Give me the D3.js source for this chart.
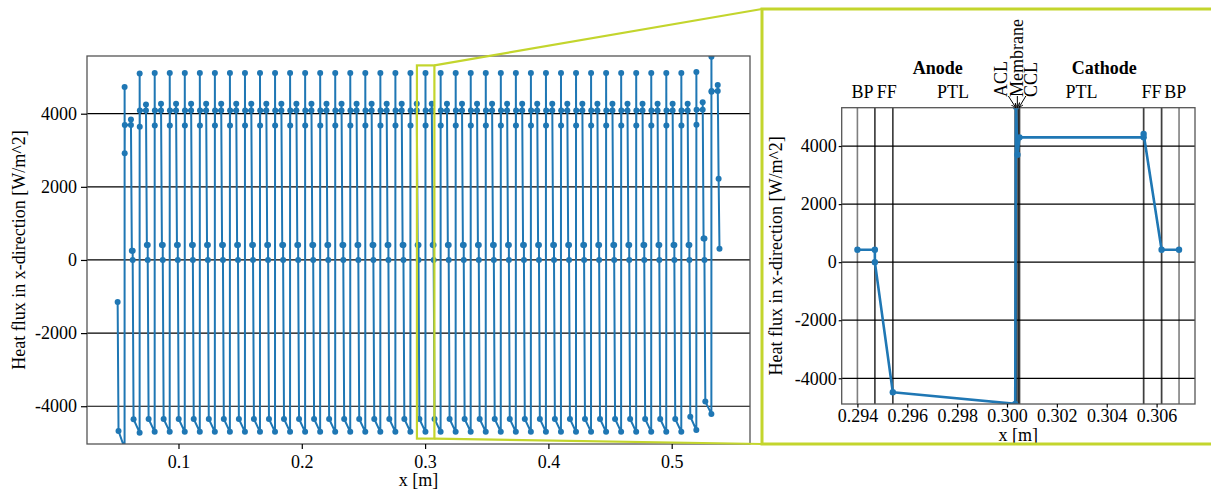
<!DOCTYPE html>
<html>
<head>
<meta charset="utf-8">
<script src="https://cdn.jsdelivr.net/npm/d3@7"></script>
<style>
  body { margin: 0; background: #fff; }
  svg text { font-family: "Liberation Serif", "Times New Roman", serif; fill: #000; }
</style>
</head>
<body>
<svg id="chart" width="1211" height="490"></svg>
<script>
// ---------------- stack overview (left) ----------------
// membrane position of each of the 40 cells [m]
const stackMembraneX = [0.0563, 0.0685, 0.0807, 0.0929, 0.1051, 0.1173, 0.1295, 0.1417, 0.1539, 0.1661,
                        0.1783, 0.1905, 0.2027, 0.2149, 0.2271, 0.2393, 0.2515, 0.2637, 0.2759, 0.2881,
                        0.3003, 0.3126, 0.3248, 0.3370, 0.3492, 0.3614, 0.3736, 0.3858, 0.3980, 0.4102,
                        0.4224, 0.4346, 0.4468, 0.4590, 0.4712, 0.4834, 0.4956, 0.5078, 0.5200, 0.5322];
// node positions of one cell relative to its membrane [m]:
// anode BP end, anode FF end, anode PTL end, ACL, membrane, CCL end, cathode PTL end, FF start, FF end, BP end
const nodeOffsets = [-0.00565, -0.00493, -0.00002, 0.00001, 0.00007, 0.00015, 0.00513, 0.00513, 0.00585, 0.00655];
// heat flux at those nodes [W/m^2]
const fluxFirstCell   = [-1150, -4677, -5150, 4729, 2921, 3688, 3688, 3844, 255, 255];
const fluxSecondCell  = [0, -4356, -4723, 5100, 3640, 4090, 4090, 4255, 411, 411];
const fluxInnerCell   = [0, -4350, -4700, 5115, 3680, 4090, 4090, 4274, 411, 411];
const fluxPenultCell  = [0, -4285, -4650, 5140, 3700, 4110, 4110, 4310, 584, 584];
const fluxLastCell    = [0, -3874, -4210, 5560, 4600, 4620, 4620, 4784, 2219, 310];

// ---------------- single cell detail (right) ----------------
const cellX    = [0.29400, 0.29470, 0.29470, 0.29542, 0.30033, 0.30036, 0.30042, 0.30050, 0.30548, 0.30548, 0.30620, 0.30690];
const cellFlux = [430, 430, 0, -4483, -4880, 5350, 3700, 4300, 4300, 4414, 430, 430];

const layerNames = ["BP", "FF", "PTL", "ACL", "Membrane", "CCL", "PTL", "FF", "BP"];
const layerStart = [0.29400, 0.29470, 0.29542, 0.30033, 0.30038, 0.30045, 0.30050, 0.30548, 0.30620];
const layerEnd   = [0.29470, 0.29542, 0.30033, 0.30038, 0.30045, 0.30050, 0.30548, 0.30620, 0.30690];

// ticks
const leftXTicks  = [0.1, 0.2, 0.3, 0.4, 0.5];
const rightXTicks = [0.294, 0.296, 0.298, 0.300, 0.302, 0.304, 0.306];
const yTicks      = [-4000, -2000, 0, 2000, 4000];

// axis limits
const leftXDomain  = [0.0258, 0.5635];
const leftYDomain  = [-5033, 5578];
const rightXDomain = [0.29337, 0.30754];
const rightYDomain = [-4886, 5321];

// ---------------- build stack series ----------------
const stackPoints = [];
stackMembraneX.forEach((m, i) => {
  let f = fluxInnerCell;
  if (i === 0) f = fluxFirstCell;
  else if (i === 1) f = fluxSecondCell;
  else if (i === stackMembraneX.length - 2) f = fluxPenultCell;
  else if (i === stackMembraneX.length - 1) f = fluxLastCell;
  nodeOffsets.forEach((o, k) => stackPoints.push([m + o, f[k]]));
});
const cellPoints = cellX.map((x, i) => [x, cellFlux[i]]);

const blue = "#1f77b4";
const green = "#c3d52d";
const svg = d3.select("#chart");

// ---------------- left panel ----------------
const L = { x0: 87, x1: 750, y0: 56, y1: 444 };
const xL = d3.scaleLinear().domain(leftXDomain).range([L.x0, L.x1]);
const yL = d3.scaleLinear().domain(leftYDomain).range([L.y1, L.y0]);

svg.append("clipPath").attr("id", "clipL").append("rect")
  .attr("x", L.x0).attr("y", L.y0).attr("width", L.x1 - L.x0).attr("height", L.y1 - L.y0);

const gL = svg.append("g");
// horizontal grid
gL.selectAll(".gridL").data(yTicks).join("line")
  .attr("x1", L.x0).attr("x2", L.x1)
  .attr("y1", d => yL(d)).attr("y2", d => yL(d))
  .attr("stroke", "#000").attr("stroke-width", 1.2);

const lineL = d3.line().x(d => xL(d[0])).y(d => yL(d[1]));
const dataL = gL.append("g").attr("clip-path", "url(#clipL)");
dataL.append("path").datum(stackPoints).attr("d", lineL)
  .attr("fill", "none").attr("stroke", blue).attr("stroke-width", 2).attr("stroke-linejoin", "round");
dataL.selectAll("circle").data(stackPoints).join("circle")
  .attr("cx", d => xL(d[0])).attr("cy", d => yL(d[1])).attr("r", 3).attr("fill", blue);

// frame
gL.append("rect").attr("x", L.x0).attr("y", L.y0).attr("width", L.x1 - L.x0).attr("height", L.y1 - L.y0)
  .attr("fill", "none").attr("stroke", "#555").attr("stroke-width", 1.3);

// axes
const axLX = d3.axisBottom(xL).tickValues(leftXTicks).tickFormat(d3.format(".1f")).tickSize(5).tickPadding(6).tickSizeOuter(0);
const axLY = d3.axisLeft(yL).tickValues(yTicks).tickFormat(d => String(d)).tickSize(6).tickPadding(4).tickSizeOuter(0);
const gLX = svg.append("g").attr("transform", `translate(0,${L.y1})`).call(axLX);
const gLY = svg.append("g").attr("transform", `translate(${L.x0},0)`).call(axLY);
[gLX, gLY].forEach(g => {
  g.select(".domain").remove();
  g.selectAll("line").attr("stroke", "#000").attr("stroke-width", 1.2);
  g.selectAll("text").style("font-family", "Liberation Serif").style("font-size", "18px");
});

svg.append("text").attr("x", (L.x0 + L.x1) / 2).attr("y", 485.5).attr("text-anchor", "middle")
  .style("font-size", "18px").text("x [m]");
svg.append("text").attr("transform", `translate(25,${(L.y0 + L.y1) / 2}) rotate(-90)`)
  .attr("text-anchor", "middle").style("font-size", "18px").text("Heat flux in x-direction [W/m^2]");

// ---------------- right panel ----------------
const R = { x0: 841.7, x1: 1195, y0: 107.7, y1: 404 };
const xR = d3.scaleLinear().domain(rightXDomain).range([R.x0, R.x1]);
const yR = d3.scaleLinear().domain(rightYDomain).range([R.y1, R.y0]);

svg.append("clipPath").attr("id", "clipR").append("rect")
  .attr("x", R.x0).attr("y", R.y0).attr("width", R.x1 - R.x0).attr("height", R.y1 - R.y0);

const gR = svg.append("g");
gR.selectAll(".gridR").data(yTicks).join("line")
  .attr("x1", R.x0).attr("x2", R.x1)
  .attr("y1", d => yR(d)).attr("y2", d => yR(d))
  .attr("stroke", "#000").attr("stroke-width", 1.2);

// layer boundaries
const bounds = layerStart.concat(layerEnd);
gR.selectAll(".bound").data(bounds).join("line")
  .attr("x1", d => xR(d)).attr("x2", d => xR(d))
  .attr("y1", R.y0).attr("y2", R.y1)
  .attr("stroke", "#000").attr("stroke-opacity", 0.5).attr("stroke-width", 1.6);

const lineR = d3.line().x(d => xR(d[0])).y(d => yR(d[1]));
const dataR = gR.append("g").attr("clip-path", "url(#clipR)");
dataR.append("path").datum(cellPoints).attr("d", lineR)
  .attr("fill", "none").attr("stroke", blue).attr("stroke-width", 2.6).attr("stroke-linejoin", "round");
dataR.selectAll("circle").data(cellPoints).join("circle")
  .attr("cx", d => xR(d[0])).attr("cy", d => yR(d[1])).attr("r", 3.2).attr("fill", blue);

gR.append("rect").attr("x", R.x0).attr("y", R.y0).attr("width", R.x1 - R.x0).attr("height", R.y1 - R.y0)
  .attr("fill", "none").attr("stroke", "#555").attr("stroke-width", 1.3);

const axRX = d3.axisBottom(xR).tickValues(rightXTicks).tickFormat(d3.format(".3f")).tickSize(3.5).tickPadding(1.5).tickSizeOuter(0);
const axRY = d3.axisLeft(yR).tickValues(yTicks).tickFormat(d => String(d)).tickSize(3).tickPadding(2).tickSizeOuter(0);
const gRX = svg.append("g").attr("transform", `translate(0,${R.y1})`).call(axRX);
const gRY = svg.append("g").attr("transform", `translate(${R.x0},0)`).call(axRY);
[gRX, gRY].forEach(g => {
  g.select(".domain").remove();
  g.selectAll("line").attr("stroke", "#000").attr("stroke-width", 1.2);
  g.selectAll("text").style("font-family", "Liberation Serif").style("font-size", "18px");
});

svg.append("text").attr("x", (R.x0 + R.x1) / 2).attr("y", 440.5).attr("text-anchor", "middle")
  .style("font-size", "18px").text("x [m]");
svg.append("text").attr("transform", `translate(782,${(R.y0 + R.y1) / 2}) rotate(-90)`)
  .attr("text-anchor", "middle").style("font-size", "18px").text("Heat flux in x-direction [W/m^2]");

// layer names above the cell (small nudges keep neighbouring names apart)
const thin = new Set(["ACL", "Membrane", "CCL"]);
const layerLabelNudge = [-3.5, 3, -1, 0, 0, 0, 0, -1, 5];
layerNames.forEach((name, i) => {
  const cx = xR((layerStart[i] + layerEnd[i]) / 2) + layerLabelNudge[i];
  if (!thin.has(name)) {
    svg.append("text").attr("x", cx).attr("y", 98).attr("text-anchor", "middle")
      .style("font-size", "18px").text(name);
  }
});
// rotated labels for the thin catalyst / membrane layers, with arrows
const memCenter = xR((layerStart[4] + layerEnd[4]) / 2);
const thinLabelShift = { ACL: -16.5, Membrane: 0, CCL: 14 };
const arrowStartShift = { ACL: -9, Membrane: 0, CCL: 8.5 };
const defs = svg.append("defs");
defs.append("marker").attr("id", "arrowHead").attr("viewBox", "0 0 10 10")
  .attr("refX", 10).attr("refY", 5).attr("markerWidth", 5).attr("markerHeight", 5)
  .attr("orient", "auto")
  .append("path").attr("d", "M0,0 L10,5 L0,10").attr("fill", "none").attr("stroke", "#000").attr("stroke-width", 1.6);
layerNames.forEach((name, i) => {
  if (!thin.has(name)) return;
  const target = xR((layerStart[i] + layerEnd[i]) / 2);
  const lx = memCenter + thinLabelShift[name];
  svg.append("text").attr("transform", `translate(${lx},97) rotate(-90)`)
    .attr("text-anchor", "start").attr("dominant-baseline", "central")
    .style("font-size", "18px").text(name);
  svg.append("line")
    .attr("x1", memCenter + arrowStartShift[name]).attr("y1", 96)
    .attr("x2", target).attr("y2", R.y0)
    .attr("stroke", "#000").attr("stroke-width", 1).attr("marker-end", "url(#arrowHead)");
});
svg.append("text").attr("x", xR((layerStart[0] + layerEnd[4]) / 2)).attr("y", 74).attr("text-anchor", "middle")
  .style("font-size", "18px").style("font-weight", "bold").text("Anode");
svg.append("text").attr("x", xR(0.3039)).attr("y", 74).attr("text-anchor", "middle")
  .style("font-size", "18px").style("font-weight", "bold").text("Cathode");

// ---------------- zoom indicator ----------------
const rx0 = xL(rightXDomain[0]), rx1 = xL(rightXDomain[1]);
const ry0 = yL(rightYDomain[1]), ry1 = yL(rightYDomain[0]);
const box = { x0: 762, y0: 9, y1: 444 };
svg.append("rect").attr("x", rx0).attr("y", ry0).attr("width", rx1 - rx0).attr("height", ry1 - ry0)
  .attr("fill", "none").attr("stroke", green).attr("stroke-width", 2.2);
svg.append("line").attr("x1", rx1).attr("y1", ry0).attr("x2", box.x0).attr("y2", box.y0)
  .attr("stroke", green).attr("stroke-width", 2.2);
svg.append("line").attr("x1", rx1).attr("y1", ry1).attr("x2", box.x0).attr("y2", box.y1)
  .attr("stroke", green).attr("stroke-width", 2.2);
svg.append("rect").attr("x", box.x0).attr("y", box.y0).attr("width", 470).attr("height", box.y1 - box.y0)
  .attr("fill", "none").attr("stroke", green).attr("stroke-width", 3);
</script>
</body>
</html>
